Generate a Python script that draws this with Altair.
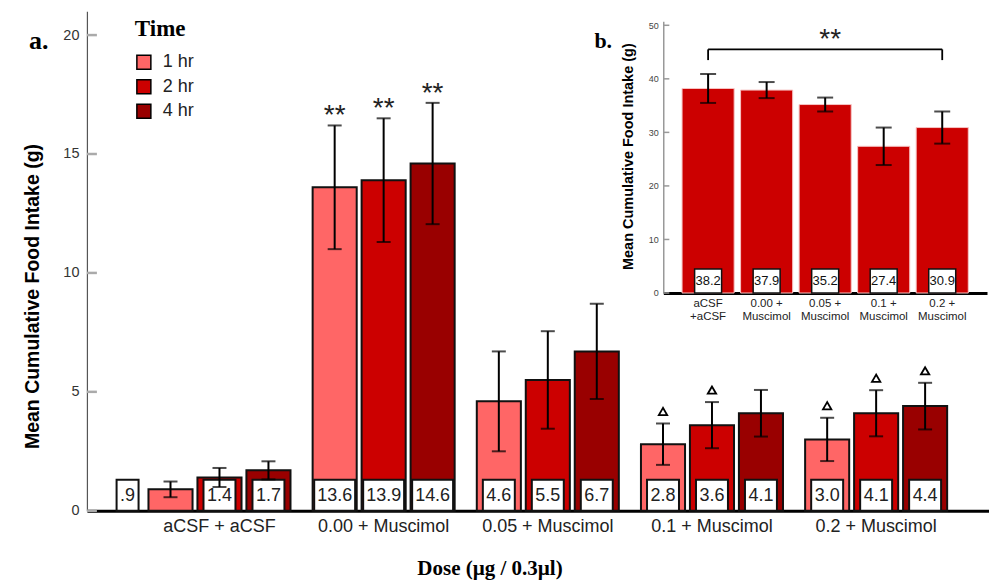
import altair as alt
import pandas as pd

# ---------------- panel a ----------------
doses = ["aCSF + aCSF", "0.00 + Muscimol", "0.05 + Muscimol", "0.1 + Muscimol", "0.2 + Muscimol"]
times = ["1 hr", "2 hr", "4 hr"]
time_colors = ["#FF6666", "#CC0000", "#990000"]

mean_1hr = [0.9, 13.6, 4.6, 2.8, 3.0]
mean_2hr = [1.4, 13.9, 5.5, 3.6, 4.1]
mean_4hr = [1.7, 14.6, 6.7, 4.1, 4.4]
err_1hr = [0.33, 2.6, 2.1, 0.87, 0.91]
err_2hr = [0.40, 2.6, 2.05, 0.97, 0.97]
err_4hr = [0.38, 2.55, 2.0, 0.98, 0.98]
labels_1hr = [".9", "13.6", "4.6", "2.8", "3.0"]
labels_2hr = ["1.4", "13.9", "5.5", "3.6", "4.1"]
labels_4hr = ["1.7", "14.6", "6.7", "4.1", "4.4"]
sig_1hr = ["", "**", "", "△", "△"]
sig_2hr = ["", "**", "", "△", "△"]
sig_4hr = ["", "**", "", "", "△"]
y_ticks_a = [0, 5, 10, 15, 20]

# ---------------- panel b ----------------
doses_b = ["aCSF|+aCSF", "0.00 +|Muscimol", "0.05 +|Muscimol", "0.1 +|Muscimol", "0.2 +|Muscimol"]
mean_b = [38.2, 37.9, 35.2, 27.4, 30.9]
err_b = [2.7, 1.5, 1.3, 3.5, 3.0]
labels_b = ["38.2", "37.9", "35.2", "27.4", "30.9"]
y_ticks_b = [0, 10, 20, 30, 40, 50]
bracket_ends = [doses_b[0], doses_b[4]]
bracket_top = 45.5
bracket_foot = 43.5

rows = []
for i, d in enumerate(doses):
    for t, m, e, l, s in zip(times,
                             [mean_1hr[i], mean_2hr[i], mean_4hr[i]],
                             [err_1hr[i], err_2hr[i], err_4hr[i]],
                             [labels_1hr[i], labels_2hr[i], labels_4hr[i]],
                             [sig_1hr[i], sig_2hr[i], sig_4hr[i]]):
        rows.append({"dose": d, "time": t, "mean": m, "lo": m - e, "hi": m + e,
                     "label": l, "sig": s})
df_a = pd.DataFrame(rows)

df_b = pd.DataFrame({"dose": doses_b, "mean": mean_b,
                     "lo": [m - e for m, e in zip(mean_b, err_b)],
                     "hi": [m + e for m, e in zip(mean_b, err_b)],
                     "label": labels_b})

W, H = 903, 500
SANS = "Liberation Sans"
SERIF = "Liberation Serif"

# ---- scales / axes for a ----
xa_scale = alt.Scale(domain=doses, paddingInner=0.105, paddingOuter=0.3, align=0.6)
xa_axis = alt.Axis(title="Dose (µg / 0.3µl)", labelAngle=0, ticks=False, tickSize=0,
                   labelPadding=7, labelFontSize=18, labelFont=SANS, labelColor="#222",
                   domainColor="black", domainWidth=3, grid=False,
                   titleFont=SERIF, titleFontSize=21, titleFontWeight="bold",
                   titleColor="black", titleX=403, titleY=47, titleBaseline="top")
ya_scale = alt.Scale(domain=[0, 21], nice=False)
ya_axis = alt.Axis(title="Mean Cumulative Food Intake (g)", values=y_ticks_a, ticks=False,
                   tickSize=0, labelPadding=8, labelFontSize=14.5, labelFont=SANS,
                   labelColor="#333", domainColor="#555", domainWidth=1.2, grid=False,
                   titleFont=SANS, titleFontSize=19.5, titleFontWeight="bold",
                   titleColor="black", titleX=-48, titleY=285, titleBaseline="alphabetic")
XA = alt.X("dose:N", scale=xa_scale, axis=xa_axis, sort=doses)
XO = alt.XOffset("time:N", sort=times,
                 scale=alt.Scale(domain=times, paddingInner=0.1, paddingOuter=0.05))


def YA(field):
    return alt.Y(field, type="quantitative", scale=ya_scale, axis=ya_axis)


base_a = alt.Chart(df_a)

bars_a = base_a.mark_bar(stroke="#111", strokeWidth=2).encode(
    x=XA, xOffset=XO, y=YA("mean"),
    color=alt.Color("time:N", sort=times,
                    scale=alt.Scale(domain=times, range=time_colors),
                    legend=alt.Legend(title="Time", orient="none", legendX=48, legendY=7,
                                      titleFont=SERIF, titleFontSize=23,
                                      titleFontWeight="bold", titleColor="black",
                                      titlePadding=12, labelFont=SANS, labelFontSize=18,
                                      labelColor="#222", symbolType="square",
                                      symbolSize=196, symbolStrokeColor="black",
                                      symbolStrokeWidth=1.5, symbolOpacity=1,
                                      rowPadding=4.5, labelOffset=10, padding=0)))

with_n = base_a.transform_calculate(n="length(datum.label)")
box_kw = dict(fill="white", stroke="#111", strokeWidth=2)
boxes3 = with_n.transform_filter("datum.n == 3").mark_bar(width=32, **box_kw).encode(
    x=XA, xOffset=XO, y=alt.value(H - 31), y2=alt.value(H))
boxes4 = with_n.transform_filter("datum.n == 4").mark_bar(width=41, **box_kw).encode(
    x=XA, xOffset=XO, y=alt.value(H - 31), y2=alt.value(H))
boxes2 = with_n.transform_filter("datum.n == 2").mark_bar(width=22, xOffset=-92, **box_kw).encode(
    x=XA, y=alt.value(H - 31), y2=alt.value(H))

txt_kw = dict(font=SANS, fontSize=18, color="#222", baseline="middle")
text_main = with_n.transform_filter("datum.n != 2").mark_text(**txt_kw).encode(
    x=XA, xOffset=XO, y=alt.value(H - 15), text="label:N")
text_small = with_n.transform_filter("datum.n == 2").mark_text(dx=-92, **txt_kw).encode(
    x=XA, y=alt.value(H - 15), text="label:N")

err_rule = base_a.mark_rule(color="black", strokeWidth=2).encode(
    x=XA, xOffset=XO, y=YA("lo"), y2="hi:Q")
err_cap_hi = base_a.mark_tick(color="black", size=14, thickness=2).encode(
    x=XA, xOffset=XO, y=YA("hi"))
err_cap_lo = base_a.mark_tick(color="black", size=14, thickness=2).encode(
    x=XA, xOffset=XO, y=YA("lo"))

stars = base_a.transform_filter("datum.sig == '**'").mark_text(
    font=SANS, fontSize=28, color="#222", baseline="alphabetic", dy=-1).encode(
    x=XA, xOffset=XO, y=YA("hi"), text="sig:N")
tris = base_a.transform_filter("datum.sig == '△'").mark_point(
    shape="triangle-up", filled=False, color="black", strokeWidth=1.8, size=70,
    yOffset=-12, opacity=1).encode(x=XA, xOffset=XO, y=YA("hi"))

ticks_a = alt.Chart(pd.DataFrame({"v": y_ticks_a})).mark_rule(
    color="#aaa", strokeWidth=2.5).encode(y=YA("v"), x=alt.value(0), x2=alt.value(10))

label_a = alt.Chart(pd.DataFrame({"t": ["a."]})).mark_text(
    font=SERIF, fontSize=26, fontWeight="bold", color="black", align="left",
    baseline="alphabetic").encode(x=alt.value(-58), y=alt.value(38), text="t:N")

panel_a = alt.layer(bars_a, boxes3, boxes4, boxes2, text_main, text_small,
                    err_rule, err_cap_hi, err_cap_lo, stars, tris, ticks_a, label_a)

# ---- scales / axes for b ----
BX0, BX1, BY0, BY1 = 577, 901, 282, 10
xb_scale = alt.Scale(domain=doses_b, range=[BX0, BX1], paddingInner=0.11, paddingOuter=0.32)
xb_axis = alt.Axis(orient="bottom", offset=BY0 - H, title=None, labelAngle=0, ticks=False,
                   tickSize=0, labelPadding=5, labelFontSize=11.5, labelLineHeight=13,
                   labelFont=SANS, labelColor="#222",
                   labelExpr="split(datum.label, '|')", domainColor="black",
                   domainWidth=3, grid=False)
yb_scale = alt.Scale(domain=[0, 50.75], range=[BY0, BY1], nice=False)
yb_axis = alt.Axis(orient="left", offset=-BX0, values=y_ticks_b, ticks=False, tickSize=0,
                   labelPadding=5, labelFontSize=9, labelFont=SANS, labelColor="#444",
                   domainColor="#666", domainWidth=1, grid=False,
                   title="Mean Cumulative Food Intake (g)", titleFont=SANS,
                   titleFontSize=14.5, titleFontWeight="bold", titleColor="black",
                   titleX=-30.5, titleY=145, titleBaseline="alphabetic")


def XB(field="dose"):
    return alt.X(field, type="nominal", scale=xb_scale, axis=xb_axis, sort=doses_b)


def YB(field):
    return alt.Y(field, type="quantitative", scale=yb_scale, axis=yb_axis)


base_b = alt.Chart(df_b)
bars_b = base_b.mark_bar(color="#CC0000", stroke="#f7c4c4", strokeWidth=1).encode(
    x=XB(), y=YB("mean"))
boxes_b = base_b.mark_bar(width=27, fill="white", stroke="#111", strokeWidth=1.5).encode(
    x=XB(), y=alt.value(BY0 - 24), y2=alt.value(BY0))
text_b = base_b.mark_text(font=SANS, fontSize=13, color="#111", baseline="middle").encode(
    x=XB(), y=alt.value(BY0 - 12), text="label:N")
err_b_rule = base_b.mark_rule(color="black", strokeWidth=2).encode(
    x=XB(), y=YB("lo"), y2="hi:Q")
err_b_hi = base_b.mark_tick(color="black", size=16, thickness=2).encode(x=XB(), y=YB("hi"))
err_b_lo = base_b.mark_tick(color="black", size=16, thickness=2).encode(x=XB(), y=YB("lo"))

ticks_b = alt.Chart(pd.DataFrame({"v": y_ticks_b})).mark_rule(
    color="#999", strokeWidth=1.5).encode(y=YB("v"), x=alt.value(BX0), x2=alt.value(BX0 + 6))

br_df = pd.DataFrame({"d": bracket_ends, "top": [bracket_top] * 2, "foot": [bracket_foot] * 2,
                      "d2": [bracket_ends[1]] * 2})
br_vert = alt.Chart(br_df).mark_rule(color="black", strokeWidth=1.8).encode(
    x=XB("d"), y=YB("foot"), y2="top:Q")
br_horiz = alt.Chart(br_df.head(1)).mark_rule(color="black", strokeWidth=1.8).encode(
    x=XB("d"), x2="d2:N", y=YB("top"))
br_star = alt.Chart(pd.DataFrame({"d": [doses_b[2]], "top": [bracket_top], "s": ["**"]})).mark_text(
    font=SANS, fontSize=28, color="#222", baseline="alphabetic", dy=-1, dx=5).encode(
    x=XB("d"), y=YB("top"), text="s:N")

label_b = alt.Chart(pd.DataFrame({"t": ["b."]})).mark_text(
    font=SERIF, fontSize=22, fontWeight="bold", color="black", align="left",
    baseline="alphabetic").encode(x=alt.value(508), y=alt.value(37), text="t:N")

panel_b = alt.layer(bars_b, boxes_b, text_b, err_b_rule, err_b_hi, err_b_lo, ticks_b,
                    br_vert, br_horiz, br_star, label_b)

chart = alt.layer(panel_a, panel_b).resolve_scale(
    x="independent", y="independent", color="independent"
).resolve_axis(x="independent", y="independent").properties(
    width=W, height=H, autosize="none",
    padding={"left": 79, "top": 3, "right": 0, "bottom": 69},
    background="white"
).configure_view(stroke=None)

chart.save("out.html", embed_options={"renderer": "svg", "actions": False})
